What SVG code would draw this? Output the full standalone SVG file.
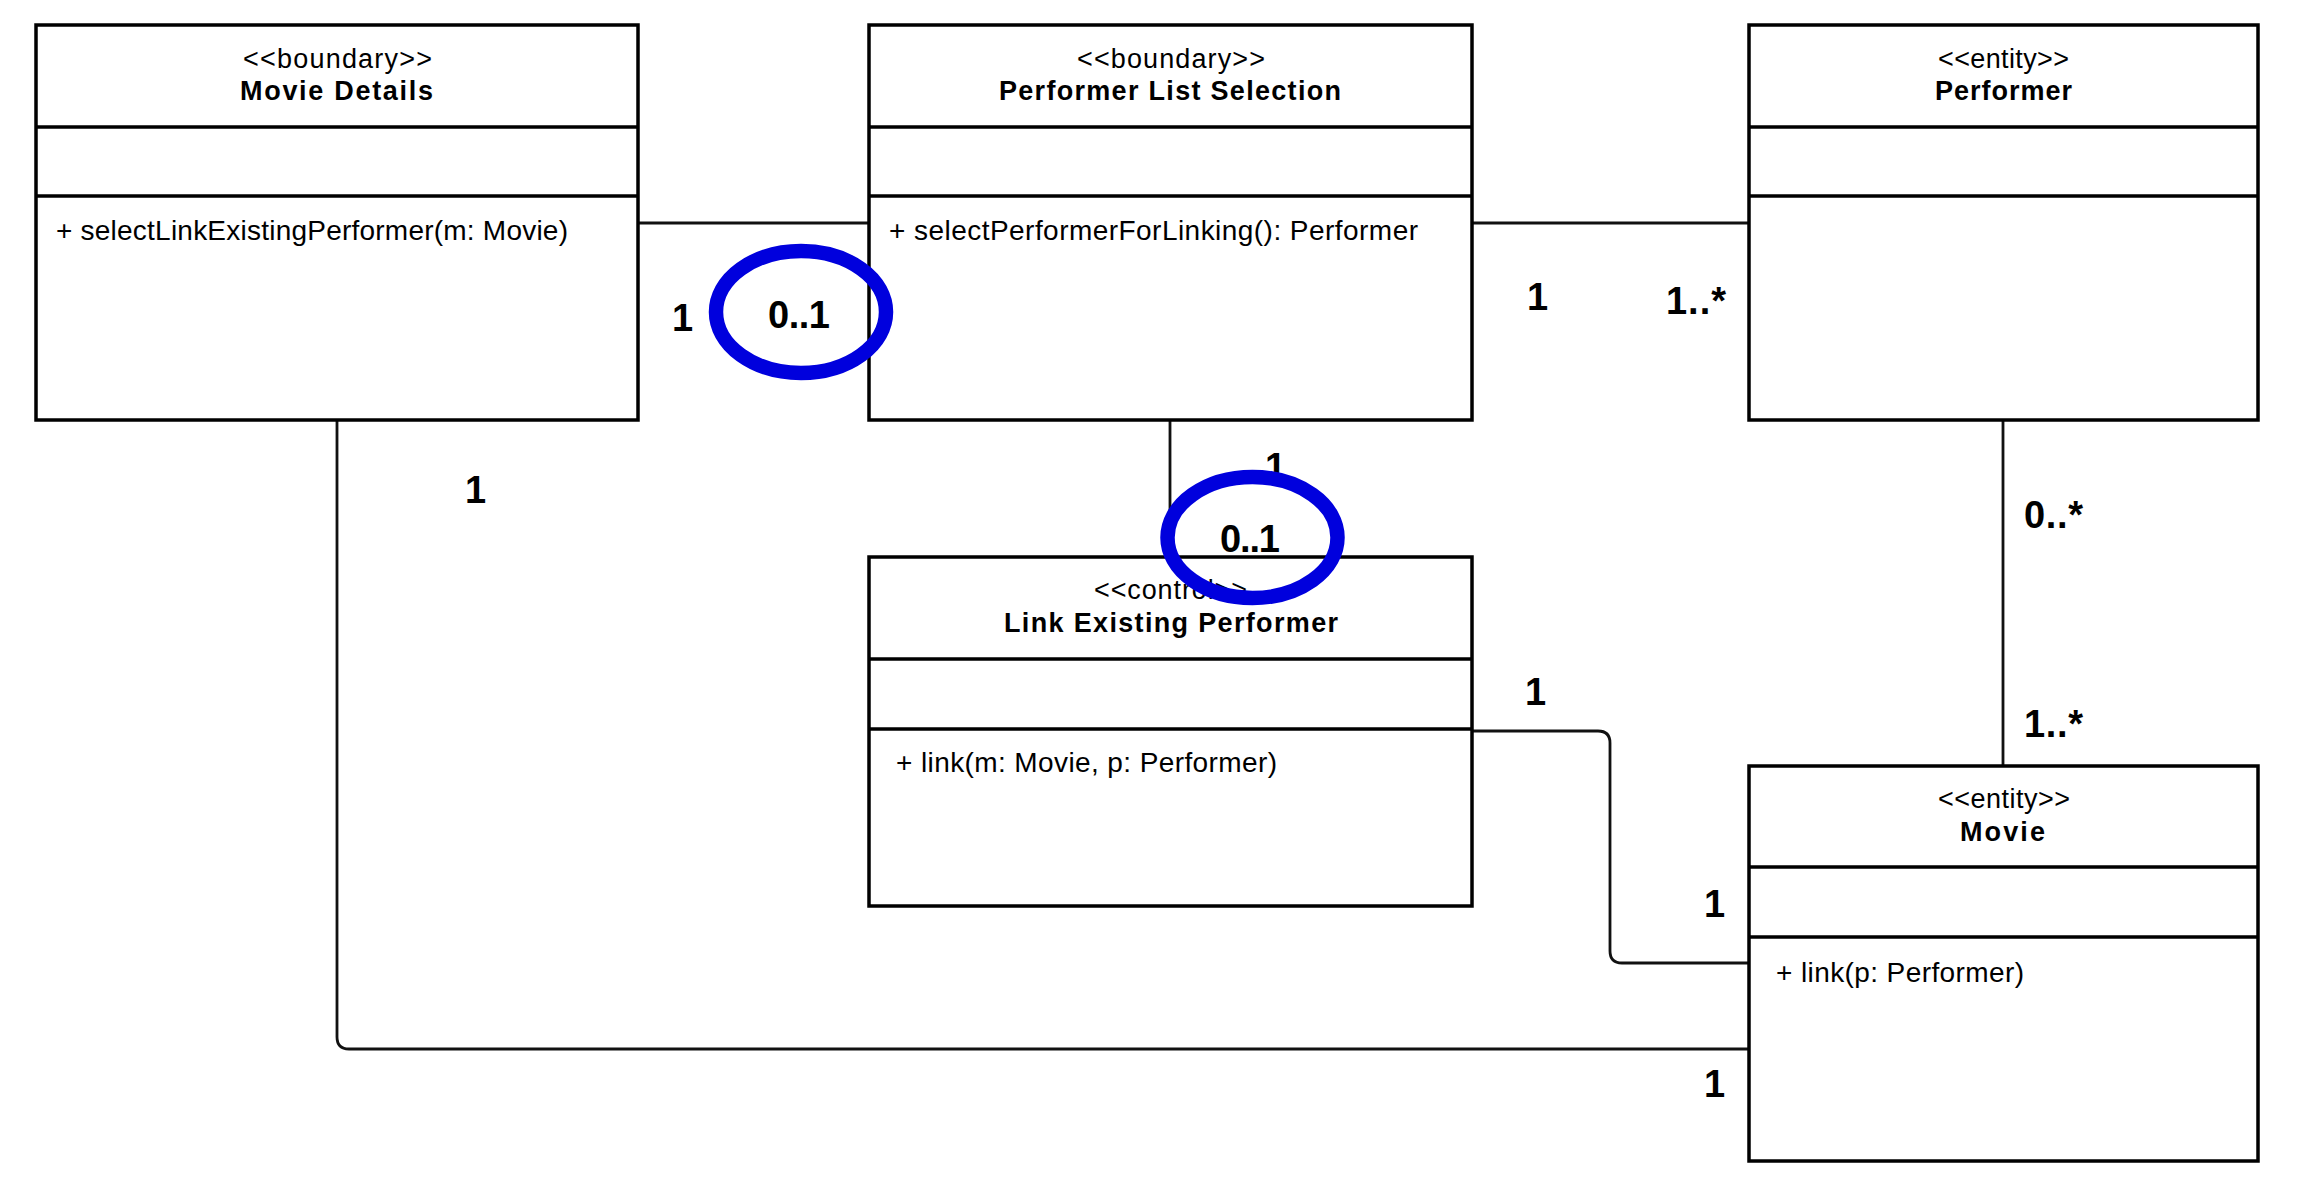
<svg xmlns="http://www.w3.org/2000/svg" width="2323" height="1203" viewBox="0 0 2323 1203">
<style>
.box{fill:#fff;stroke:#000;stroke-width:3.5}
.div{stroke:#000;stroke-width:3.5}
.st{font-family:"Liberation Sans",Arial,sans-serif;font-size:27px;fill:#000}
.ti{font-family:"Liberation Sans",Arial,sans-serif;font-size:27px;font-weight:bold;fill:#000}
.me{font-family:"Liberation Sans",Arial,sans-serif;font-size:28px;fill:#000}
.mu{font-family:"Liberation Sans",Arial,sans-serif;font-size:38px;font-weight:bold;fill:#000}
.conn{fill:none;stroke:#111;stroke-width:2.8}
.hl{fill:none;stroke:#0000DD;stroke-width:14.5}
</style>
<rect width="2323" height="1203" fill="#fff"/>
<g id="connectors">
<line class="conn" x1="638" y1="223" x2="869" y2="223"/>
<line class="conn" x1="1472" y1="223" x2="1749" y2="223"/>
<line class="conn" x1="1170" y1="420" x2="1170" y2="557"/>
<line class="conn" x1="2003" y1="420" x2="2003" y2="766"/>
<path class="conn" d="M1472 731 H1598 Q1610 731 1610 743 V951 Q1610 963 1622 963 H1749"/>
<path class="conn" d="M337 420 V1037 Q337 1049 349 1049 H1749"/>
</g>
<g id="movie-details">
<rect class="box" x="36" y="25" width="602" height="395"/>
<line class="div" x1="36" y1="127" x2="638" y2="127"/>
<line class="div" x1="36" y1="196" x2="638" y2="196"/>
<text class="st" x="243" y="68" textLength="189" lengthAdjust="spacing">&lt;&lt;boundary&gt;&gt;</text>
<text class="ti" x="240" y="100" textLength="193" lengthAdjust="spacing">Movie Details</text>
<text class="me" x="56" y="240" textLength="512" lengthAdjust="spacing">+ selectLinkExistingPerformer(m: Movie)</text>
</g>
<g id="performer-list-selection">
<rect class="box" x="869" y="25" width="603" height="395"/>
<line class="div" x1="869" y1="127" x2="1472" y2="127"/>
<line class="div" x1="869" y1="196" x2="1472" y2="196"/>
<text class="st" x="1077" y="68" textLength="188" lengthAdjust="spacing">&lt;&lt;boundary&gt;&gt;</text>
<text class="ti" x="999" y="100" textLength="342" lengthAdjust="spacing">Performer List Selection</text>
<text class="me" x="889" y="240" textLength="529" lengthAdjust="spacing">+ selectPerformerForLinking(): Performer</text>
</g>
<g id="performer">
<rect class="box" x="1749" y="25" width="509" height="395"/>
<line class="div" x1="1749" y1="127" x2="2258" y2="127"/>
<line class="div" x1="1749" y1="196" x2="2258" y2="196"/>
<text class="st" x="1938" y="68" textLength="131" lengthAdjust="spacing">&lt;&lt;entity&gt;&gt;</text>
<text class="ti" x="1935" y="100" textLength="137" lengthAdjust="spacing">Performer</text>
</g>
<g id="link-existing-performer">
<rect class="box" x="869" y="557" width="603" height="349"/>
<line class="div" x1="869" y1="659" x2="1472" y2="659"/>
<line class="div" x1="869" y1="729" x2="1472" y2="729"/>
<text class="st" x="1094" y="599" textLength="153" lengthAdjust="spacing">&lt;&lt;control&gt;&gt;</text>
<text class="ti" x="1004" y="632" textLength="334" lengthAdjust="spacing">Link Existing Performer</text>
<text class="me" x="896" y="772" textLength="381" lengthAdjust="spacing">+ link(m: Movie, p: Performer)</text>
</g>
<g id="movie">
<rect class="box" x="1749" y="766" width="509" height="395"/>
<line class="div" x1="1749" y1="867" x2="2258" y2="867"/>
<line class="div" x1="1749" y1="937" x2="2258" y2="937"/>
<text class="st" x="1938" y="808" textLength="132" lengthAdjust="spacing">&lt;&lt;entity&gt;&gt;</text>
<text class="ti" x="1960" y="841" textLength="85" lengthAdjust="spacing">Movie</text>
<text class="me" x="1776" y="982" textLength="248" lengthAdjust="spacing">+ link(p: Performer)</text>
</g>
<g id="multiplicities">
<text class="mu" x="672" y="331">1</text>
<text class="mu" x="768" y="328" textLength="62" lengthAdjust="spacing">0..1</text>
<text class="mu" x="1527" y="310">1</text>
<text class="mu" x="1666" y="314" textLength="60" lengthAdjust="spacing">1..*</text>
<text class="mu" x="465" y="503">1</text>
<text class="mu" x="1265" y="480">1</text>
<text class="mu" x="1220" y="552" textLength="60" lengthAdjust="spacing">0..1</text>
<text class="mu" x="2024" y="528" textLength="59" lengthAdjust="spacing">0..*</text>
<text class="mu" x="2024" y="737" textLength="59" lengthAdjust="spacing">1..*</text>
<text class="mu" x="1525" y="705">1</text>
<text class="mu" x="1704" y="917">1</text>
<text class="mu" x="1704" y="1097">1</text>
</g>
<g id="highlights">
<ellipse class="hl" cx="801" cy="312" rx="85" ry="61"/>
<ellipse class="hl" cx="1252.5" cy="537.5" rx="85" ry="60.5"/>
</g>
</svg>
